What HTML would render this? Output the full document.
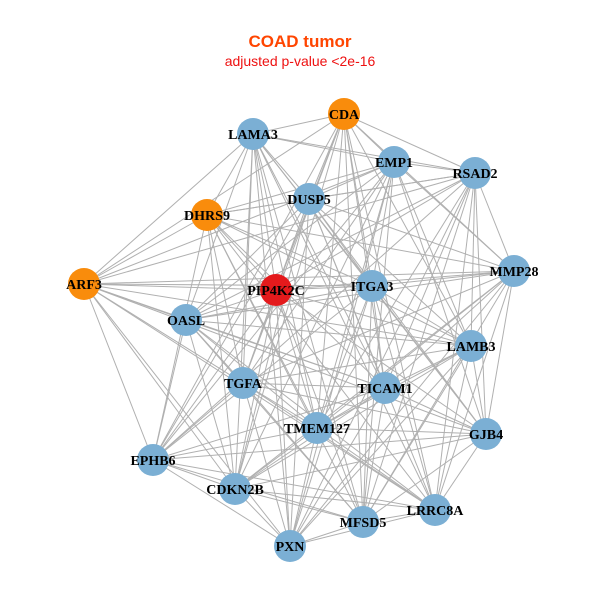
<!DOCTYPE html>
<html><head><meta charset="utf-8"><style>
html,body{margin:0;padding:0;background:#fff;}
</style></head><body>
<svg id="s" width="600" height="600" viewBox="0 0 600 600" xmlns="http://www.w3.org/2000/svg">
<rect width="600" height="600" fill="#fff"/>
<text x="300" y="47" text-anchor="middle" font-family="Liberation Sans, sans-serif" font-weight="bold" font-size="17" fill="#ff4500">COAD tumor</text>
<text x="300" y="66" text-anchor="middle" font-family="Liberation Sans, sans-serif" font-size="14" fill="#ee1111">adjusted p-value &lt;2e-16</text>
<g id="edges" stroke="#b0b0b0" stroke-width="1"></g>
<g id="nodes"></g>
<g font-family="Liberation Serif, serif" font-weight="bold" font-size="14" text-anchor="middle" fill="#000">
<text x="344" y="119">CDA</text>
<text x="253" y="139">LAMA3</text>
<text x="475" y="178">RSAD2</text>
<text x="394" y="167">EMP1</text>
<text x="309" y="204">DUSP5</text>
<text x="207" y="220">DHRS9</text>
<text x="514" y="276">MMP28</text>
<text x="372" y="291">ITGA3</text>
<text x="276" y="295">PIP4K2C</text>
<text x="84" y="289">ARF3</text>
<text x="186" y="325">OASL</text>
<text x="471" y="351">LAMB3</text>
<text x="243" y="388">TGFA</text>
<text x="385" y="393">TICAM1</text>
<text x="317" y="433">TMEM127</text>
<text x="486" y="439">GJB4</text>
<text x="153" y="465">EPHB6</text>
<text x="235" y="494">CDKN2B</text>
<text x="435" y="515">LRRC8A</text>
<text x="363" y="527">MFSD5</text>
<text x="290" y="551">PXN</text>
</g>
</svg>
<script>
var N=[[344,114,'o'],[253,134,'b'],[475,173,'b'],[394,162,'b'],[309,199,'b'],[207,215,'o'],[514,271,'b'],[372,286,'b'],[276,290,'r'],[84,284,'o'],[186,320,'b'],[471,346,'b'],[243,383,'b'],[385,388,'b'],[317,428,'b'],[486,434,'b'],[153,460,'b'],[235,489,'b'],[435,510,'b'],[363,522,'b'],[290,546,'b']];
var ns="http://www.w3.org/2000/svg",E=document.getElementById('edges'),G=document.getElementById('nodes');
for(var i=0;i<N.length;i++)for(var j=i+1;j<N.length;j++){
 if(((i*7+j*3)%5)==0)continue;
 var l=document.createElementNS(ns,'line');
 l.setAttribute('x1',N[i][0]);l.setAttribute('y1',N[i][1]);l.setAttribute('x2',N[j][0]);l.setAttribute('y2',N[j][1]);E.appendChild(l);}
var C={o:'#f98c0c',b:'#7bafd4',r:'#e41a1c'};
N.forEach(function(n){var c=document.createElementNS(ns,'circle');c.setAttribute('cx',n[0]);c.setAttribute('cy',n[1]);c.setAttribute('r',16);c.setAttribute('fill',C[n[2]]);G.appendChild(c);});
</script>
</body></html>
